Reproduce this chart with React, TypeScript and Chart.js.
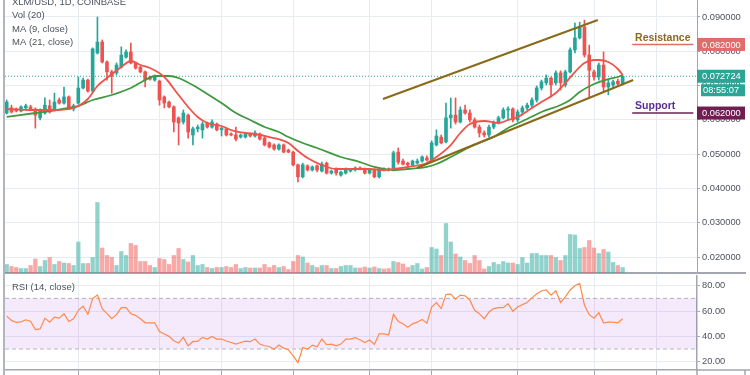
import React, { useEffect, useRef } from 'react';
import { Chart, registerables } from 'chart.js';

Chart.register(...registerables);

// ---------- DATA ----------
const opens = [
  0.0620, 0.0635, 0.0632, 0.0626, 0.0635, 0.0638, 0.0632, 0.0606, 0.0620, 0.0641,
  0.0629, 0.0658, 0.0649, 0.0667, 0.0632, 0.0649, 0.0693, 0.0716, 0.0684, 0.0795,
  0.0827, 0.0769, 0.0740, 0.0737, 0.0754, 0.0783, 0.0798, 0.0766, 0.0754, 0.0740,
  0.0725, 0.0716, 0.0713, 0.0667, 0.0652, 0.0638, 0.0606, 0.0594, 0.0614, 0.0556,
  0.0574, 0.0571, 0.0591, 0.0579, 0.0588, 0.0571, 0.0574, 0.0559, 0.0556, 0.0550,
  0.0550, 0.0559, 0.0553, 0.0559, 0.0547, 0.0533, 0.0527, 0.0515, 0.0527, 0.0512,
  0.0506, 0.0469, 0.0434, 0.0466, 0.0454, 0.0466, 0.0451, 0.0474, 0.0445, 0.0457,
  0.0439, 0.0445, 0.0451, 0.0454, 0.0460, 0.0457, 0.0445, 0.0454, 0.0434, 0.0457,
  0.0457, 0.0454, 0.0506, 0.0480, 0.0474, 0.0469, 0.0474, 0.0480, 0.0489, 0.0480,
  0.0527, 0.0550, 0.0536, 0.0606, 0.0614, 0.0594, 0.0629, 0.0620, 0.0600, 0.0579,
  0.0562, 0.0556, 0.0579, 0.0591, 0.0606, 0.0629, 0.0632, 0.0600, 0.0623, 0.0635,
  0.0643, 0.0658, 0.0693, 0.0708, 0.0722, 0.0708, 0.0737, 0.0702, 0.0740, 0.0804,
  0.0839, 0.0871, 0.0789, 0.0740, 0.0725, 0.0760, 0.0696, 0.0702, 0.0713, 0.0705,
];
const highs = [
  0.0658, 0.0643, 0.0635, 0.0641, 0.0646, 0.0643, 0.0635, 0.0632, 0.0664, 0.0658,
  0.0678, 0.0664, 0.0696, 0.0670, 0.0646, 0.0725, 0.0722, 0.0719, 0.0810, 0.0900,
  0.0833, 0.0772, 0.0745, 0.0766, 0.0813, 0.0804, 0.0824, 0.0769, 0.0757, 0.0743,
  0.0728, 0.0731, 0.0716, 0.0670, 0.0655, 0.0641, 0.0609, 0.0629, 0.0617, 0.0579,
  0.0585, 0.0594, 0.0594, 0.0600, 0.0591, 0.0579, 0.0576, 0.0562, 0.0579, 0.0559,
  0.0562, 0.0562, 0.0568, 0.0562, 0.0550, 0.0536, 0.0530, 0.0530, 0.0530, 0.0515,
  0.0509, 0.0471, 0.0474, 0.0469, 0.0466, 0.0469, 0.0477, 0.0477, 0.0454, 0.0460,
  0.0451, 0.0460, 0.0457, 0.0463, 0.0463, 0.0460, 0.0457, 0.0457, 0.0460, 0.0460,
  0.0460, 0.0509, 0.0518, 0.0486, 0.0477, 0.0483, 0.0486, 0.0495, 0.0495, 0.0539,
  0.0571, 0.0556, 0.0649, 0.0664, 0.0664, 0.0638, 0.0643, 0.0629, 0.0606, 0.0585,
  0.0568, 0.0585, 0.0597, 0.0611, 0.0635, 0.0638, 0.0635, 0.0629, 0.0641, 0.0649,
  0.0664, 0.0699, 0.0716, 0.0731, 0.0725, 0.0743, 0.0743, 0.0745, 0.0810, 0.0882,
  0.0885, 0.0891, 0.0818, 0.0745, 0.0766, 0.0798, 0.0716, 0.0716, 0.0719, 0.0728,
];
const lows = [
  0.0617, 0.0620, 0.0623, 0.0623, 0.0632, 0.0629, 0.0576, 0.0600, 0.0617, 0.0620,
  0.0626, 0.0646, 0.0646, 0.0632, 0.0626, 0.0646, 0.0690, 0.0681, 0.0681, 0.0792,
  0.0766, 0.0716, 0.0678, 0.0731, 0.0751, 0.0780, 0.0763, 0.0748, 0.0737, 0.0696,
  0.0716, 0.0713, 0.0643, 0.0635, 0.0635, 0.0565, 0.0527, 0.0588, 0.0547, 0.0527,
  0.0565, 0.0547, 0.0576, 0.0576, 0.0568, 0.0553, 0.0553, 0.0553, 0.0539, 0.0547,
  0.0547, 0.0550, 0.0550, 0.0541, 0.0524, 0.0518, 0.0512, 0.0512, 0.0504, 0.0504,
  0.0466, 0.0419, 0.0431, 0.0451, 0.0451, 0.0448, 0.0448, 0.0442, 0.0442, 0.0439,
  0.0436, 0.0442, 0.0448, 0.0451, 0.0454, 0.0442, 0.0442, 0.0431, 0.0431, 0.0451,
  0.0451, 0.0451, 0.0471, 0.0469, 0.0466, 0.0466, 0.0471, 0.0477, 0.0480, 0.0477,
  0.0524, 0.0530, 0.0533, 0.0576, 0.0588, 0.0591, 0.0617, 0.0594, 0.0576, 0.0550,
  0.0550, 0.0550, 0.0574, 0.0588, 0.0603, 0.0600, 0.0594, 0.0594, 0.0617, 0.0629,
  0.0635, 0.0652, 0.0687, 0.0702, 0.0667, 0.0702, 0.0687, 0.0696, 0.0737, 0.0795,
  0.0836, 0.0783, 0.0664, 0.0716, 0.0716, 0.0681, 0.0673, 0.0693, 0.0699, 0.0702,
];
const closes = [
  0.0652, 0.0623, 0.0626, 0.0638, 0.0641, 0.0632, 0.0614, 0.0629, 0.0643, 0.0623,
  0.0652, 0.0649, 0.0667, 0.0635, 0.0641, 0.0693, 0.0716, 0.0684, 0.0807, 0.0827,
  0.0769, 0.0740, 0.0728, 0.0760, 0.0789, 0.0798, 0.0766, 0.0751, 0.0740, 0.0716,
  0.0719, 0.0725, 0.0658, 0.0649, 0.0638, 0.0594, 0.0591, 0.0620, 0.0565, 0.0574,
  0.0579, 0.0588, 0.0579, 0.0594, 0.0571, 0.0576, 0.0556, 0.0556, 0.0544, 0.0556,
  0.0559, 0.0553, 0.0562, 0.0544, 0.0527, 0.0521, 0.0515, 0.0527, 0.0506, 0.0506,
  0.0469, 0.0434, 0.0469, 0.0454, 0.0463, 0.0454, 0.0471, 0.0445, 0.0451, 0.0445,
  0.0448, 0.0457, 0.0454, 0.0460, 0.0457, 0.0445, 0.0454, 0.0434, 0.0457, 0.0454,
  0.0454, 0.0504, 0.0477, 0.0471, 0.0469, 0.0480, 0.0480, 0.0492, 0.0483, 0.0533,
  0.0553, 0.0533, 0.0606, 0.0614, 0.0594, 0.0629, 0.0620, 0.0600, 0.0579, 0.0562,
  0.0556, 0.0579, 0.0591, 0.0606, 0.0629, 0.0632, 0.0600, 0.0623, 0.0635, 0.0643,
  0.0658, 0.0693, 0.0711, 0.0722, 0.0702, 0.0737, 0.0708, 0.0740, 0.0804, 0.0839,
  0.0871, 0.0789, 0.0745, 0.0725, 0.0760, 0.0696, 0.0708, 0.0711, 0.0705, 0.072724,
];
// volume in millions of XLM
const volumes = [
  17, 13, 11, 9, 9, 15, 28, 13, 25, 31, 17, 23, 20, 19, 15, 62, 19, 19, 31, 141,
  50, 35, 31, 15, 43, 35, 59, 55, 23, 23, 15, 11, 29, 27, 17, 35, 49, 27, 22, 35,
  15, 17, 11, 9, 11, 11, 13, 11, 17, 9, 11, 10, 10, 10, 17, 11, 15, 11, 13, 7,
  23, 35, 32, 20, 15, 11, 15, 15, 9, 9, 13, 15, 15, 10, 10, 12, 10, 12, 9, 8,
  9, 23, 21, 18, 11, 15, 19, 8, 11, 51, 48, 35, 99, 62, 38, 32, 25, 19, 35, 25,
  8, 13, 21, 17, 23, 20, 20, 17, 31, 20, 39, 39, 35, 35, 35, 31, 25, 35, 77, 76,
  49, 51, 65, 50, 39, 47, 42, 21, 15, 11,
];
const rsiValues = [
  56.0, 52.6, 51.0, 51.5, 53.1, 52.0, 45.4, 45.9, 54.4, 51.2,
  55.2, 54.4, 57.9, 51.8, 53.9, 60.6, 63.8, 57.4, 69.9, 72.6,
  61.9, 57.9, 53.9, 57.1, 62.7, 62.7, 57.9, 56.6, 53.9, 50.7,
  50.7, 50.7, 43.8, 41.9, 40.0, 36.6, 34.7, 39.2, 32.6, 36.0,
  36.0, 39.2, 37.9, 40.0, 37.9, 37.9, 36.3, 35.2, 33.9, 35.2,
  36.3, 35.8, 37.9, 33.9, 32.6, 32.0, 29.9, 33.1, 30.7, 29.4,
  24.6, 19.2, 31.2, 29.9, 33.1, 31.8, 37.9, 33.4, 33.9, 32.6,
  33.9, 37.9, 37.9, 39.0, 37.4, 35.2, 37.1, 33.6, 41.9, 41.9,
  41.1, 57.4, 51.8, 49.9, 47.2, 49.9, 51.2, 53.4, 50.4, 63.2,
  66.7, 61.9, 73.1, 73.4, 69.4, 72.6, 72.0, 68.6, 60.6, 57.9,
  53.9, 59.2, 61.9, 62.7, 62.7, 65.9, 59.8, 63.2, 65.1, 66.7,
  70.4, 73.6, 75.8, 76.6, 72.6, 76.0, 66.7, 71.2, 76.6, 80.0,
  81.9, 64.6, 57.1, 54.4, 58.7, 50.7, 51.2, 51.2, 50.7, 53.9,
];
// moving averages (candle index, value)
const ma9Days = [0, 5, 10, 14, 17, 19, 21, 24, 26, 28, 30, 33, 36, 38, 40, 42, 45, 47, 50, 52, 55, 59, 61, 63, 66, 69, 72, 76, 79, 81, 84, 88, 90, 93, 95, 97, 100, 103, 105, 107, 110, 112, 115, 117, 119, 121, 123, 124, 126, 128, 129];
const ma9Values = [0.06318, 0.06289, 0.06289, 0.06347, 0.06609, 0.06988, 0.07222, 0.07542, 0.07717, 0.07601, 0.07513, 0.07251, 0.06726, 0.06376, 0.06085, 0.05910, 0.05822, 0.05705, 0.05618, 0.05589, 0.05501, 0.05327, 0.05093, 0.04889, 0.04685, 0.04568, 0.04568, 0.04568, 0.04539, 0.04568, 0.04627, 0.04743, 0.04918, 0.05268, 0.05618, 0.05880, 0.05968, 0.05910, 0.05997, 0.06085, 0.06347, 0.06522, 0.06784, 0.07076, 0.07396, 0.07659, 0.07746, 0.07746, 0.07688, 0.07484, 0.07309];
const ma21Days = [0, 6, 13, 15, 18, 22, 26, 29, 31, 34, 36, 40, 43, 45, 48, 51, 54, 57, 59, 62, 65, 70, 74, 77, 81, 84, 88, 90, 93, 97, 100, 102, 105, 109, 112, 116, 118, 120, 123, 126, 128, 129];
const ma21Values = [0.06085, 0.06201, 0.06347, 0.06405, 0.06580, 0.06726, 0.06930, 0.07163, 0.07280, 0.07280, 0.07222, 0.06930, 0.06668, 0.06493, 0.06201, 0.05997, 0.05793, 0.05647, 0.05501, 0.05327, 0.05181, 0.04918, 0.04772, 0.04627, 0.04539, 0.04568, 0.04627, 0.04714, 0.04918, 0.05210, 0.05385, 0.05501, 0.05764, 0.06026, 0.06230, 0.06434, 0.06580, 0.06813, 0.07047, 0.07192, 0.07251, 0.07309];
// hand-drawn channel (candle index, price)
const channelUpper = [[78.8, 0.06609], [123.8, 0.08913]];
const channelLower = [[85.9, 0.04598], [131.2, 0.07163]];
const resistanceLevel = 0.082;
const supportLevel = 0.062;
const levelSpan = [131.0, 143.8];
const labelAt = 131.6;
const lastPrice = 0.072724;
const countdown = '08:55:07';
const gridDays = [15, 32, 45, 60, 76, 89, 107, 123, 136];
const priceTicks = [0.02, 0.03, 0.04, 0.05, 0.06, 0.07, 0.08, 0.09];
const rsiTicks = [20, 40, 60, 80];
const rsiBand = [30, 70];

// ---------- AXIS RANGES / STYLE ----------
const X_MIN = -0.356;
const X_MAX = 144.57;
const P_MIN = 0.015364;
const P_MAX = 0.094956;
const VOL_MAX = 546;
const RSI_MIN = 13.45;
const RSI_MAX = 88.45;

const FONT = '"Liberation Sans", Arial, sans-serif';
const UP = '#26a69a';
const DOWN = '#ef5350';
const VOL_UP = 'rgba(38,166,154,0.5)';
const VOL_DOWN = 'rgba(239,83,80,0.5)';
const MA9_C = '#f0534b';
const MA21_C = '#3f9a3f';
const TREND = '#8a6a18';
const GRID = '#e7ecf1';
const AXIS = '#a3a6ae';
const TEXT = '#4c525e';
const RSI_C = '#ff8a4c';
const BAND_LINE = '#b4b6bd';
const BAND_FILL = 'rgba(155,39,230,0.1)';
const RES_LINE = '#e06c6c';
const RES_TEXT = '#8a6a18';
const SUP_LINE = '#6d1f52';
const SUP_TEXT = '#5b2c91';
const LAST_BOX = '#2aa596';

Chart.defaults.font.family = FONT;

const isUp = closes.map((c, i) => c >= opens[i]);
const candleColors = isUp.map((u) => (u ? UP : DOWN));
const volColors = isUp.map((u) => (u ? VOL_UP : VOL_DOWN));

function leftBorder(chart: any) {
  const { ctx, chartArea } = chart;
  ctx.save();
  ctx.strokeStyle = '#b2b5be';
  ctx.lineWidth = 2;
  ctx.beginPath();
  ctx.moveTo(chartArea.left - 1, 0);
  ctx.lineTo(chartArea.left - 1, chart.height);
  ctx.stroke();
  ctx.restore();
}

const priceDecor = {
  id: 'priceDecor',
  afterDraw(chart: any) {
    const { ctx, chartArea, scales } = chart;
    const ys = scales.y;
    const xs = scales.x;
    leftBorder(chart);
    ctx.save();
    ctx.strokeStyle = AXIS;
    ctx.lineWidth = 2;
    ctx.beginPath();
    ctx.moveTo(chartArea.right, chartArea.bottom);
    ctx.lineTo(chart.width - 4, chartArea.bottom);
    ctx.stroke();

    const box = (value: number, bg: string, text: string) => {
      const y = ys.getPixelForValue(value);
      ctx.fillStyle = bg;
      ctx.fillRect(chartArea.right, y - 6.5, chart.width - 5 - chartArea.right, 13);
      ctx.fillStyle = '#ffffff';
      ctx.font = `9.3px ${FONT}`;
      ctx.textBaseline = 'middle';
      ctx.textAlign = 'left';
      ctx.fillText(text, chartArea.right + 5, y + 0.5);
      return y;
    };
    box(resistanceLevel, RES_LINE, resistanceLevel.toFixed(6));
    box(supportLevel, SUP_LINE, supportLevel.toFixed(6));
    const yl = box(lastPrice, LAST_BOX, lastPrice.toFixed(6));
    ctx.fillStyle = LAST_BOX;
    ctx.fillRect(chartArea.right + 4, yl + 8, chart.width - 9 - chartArea.right, 12);
    ctx.fillStyle = '#ffffff';
    ctx.fillText(countdown, chartArea.right + 6, yl + 14.5);

    ctx.font = `bold 10.5px ${FONT}`;
    ctx.textBaseline = 'alphabetic';
    ctx.fillStyle = RES_TEXT;
    ctx.fillText('Resistance', xs.getPixelForValue(labelAt), ys.getPixelForValue(resistanceLevel) - 3);
    ctx.fillStyle = SUP_TEXT;
    ctx.fillText('Support', xs.getPixelForValue(labelAt), ys.getPixelForValue(supportLevel) - 4.5);

    ctx.font = `9.5px ${FONT}`;
    ctx.fillStyle = TEXT;
    const lx = 12;
    ctx.fillText('XLM/USD, 1D, COINBASE', lx, 5);
    ctx.fillText('Vol (20)', lx, 18.4);
    ctx.fillText('MA (9, close)', lx, 31.7);
    ctx.fillText('MA (21, close)', lx, 45);
    ctx.restore();
  },
};

const rsiDecor = {
  id: 'rsiDecor',
  afterDraw(chart: any) {
    const { ctx, chartArea } = chart;
    leftBorder(chart);
    ctx.save();
    ctx.strokeStyle = AXIS;
    ctx.lineWidth = 1.5;
    ctx.beginPath();
    ctx.moveTo(chartArea.right, chartArea.bottom);
    ctx.lineTo(chart.width, chartArea.bottom);
    ctx.moveTo(chartArea.right, chartArea.bottom);
    ctx.lineTo(chartArea.right, chart.height);
    ctx.moveTo(chart.width - 5, chartArea.bottom);
    ctx.lineTo(chart.width - 5, chart.height);
    ctx.stroke();
    ctx.font = `9.5px ${FONT}`;
    ctx.fillStyle = TEXT;
    ctx.textBaseline = 'alphabetic';
    ctx.fillText('RSI (14, close)', 12, 15);
    ctx.restore();
  },
};

const seg = (pts: number[][]) => pts.map(([x, y]) => ({ x, y }));
const hline = (y: number, a = X_MIN, b = X_MAX) => [{ x: a, y }, { x: b, y }];

function xScale(height: number, tickLength: number) {
  return {
    type: 'linear',
    min: X_MIN,
    max: X_MAX,
    offset: false,
    position: 'bottom',
    afterBuildTicks: (s: any) => {
      s.ticks = gridDays.map((v) => ({ value: v }));
    },
    afterFit: (s: any) => {
      s.height = height;
    },
    ticks: { display: false },
    grid: { color: GRID, offset: false, drawTicks: tickLength > 0, tickLength, tickColor: AXIS },
    border: { display: true, color: AXIS, width: height > 2 ? 1.5 : 2 },
  };
}

function priceConfig(): any {
  return {
    type: 'bar',
    data: {
      datasets: [
        { type: 'line', label: 'Channel top', data: seg(channelUpper), borderColor: TREND, borderWidth: 2, pointRadius: 0, fill: false, order: 1 },
        { type: 'line', label: 'Channel bottom', data: seg(channelLower), borderColor: TREND, borderWidth: 2, pointRadius: 0, fill: false, order: 1 },
        { type: 'line', label: 'Resistance', data: hline(resistanceLevel, levelSpan[0], levelSpan[1]), borderColor: RES_LINE, borderWidth: 1.5, pointRadius: 0, fill: false, order: 1 },
        { type: 'line', label: 'Support', data: hline(supportLevel, levelSpan[0], levelSpan[1]), borderColor: SUP_LINE, borderWidth: 1.5, pointRadius: 0, fill: false, order: 1 },
        { type: 'line', label: 'MA (9, close)', data: ma9Days.map((x, i) => ({ x, y: ma9Values[i] })), borderColor: MA9_C, borderWidth: 1.8, pointRadius: 0, fill: false, cubicInterpolationMode: 'monotone', order: 2 },
        { type: 'line', label: 'MA (21, close)', data: ma21Days.map((x, i) => ({ x, y: ma21Values[i] })), borderColor: MA21_C, borderWidth: 1.8, pointRadius: 0, fill: false, cubicInterpolationMode: 'monotone', order: 2 },
        { type: 'line', label: 'Last price', data: hline(lastPrice), borderColor: UP, borderWidth: 1, borderDash: [1, 2], pointRadius: 0, fill: false, order: 3 },
        { type: 'bar', label: 'Body', data: closes.map((c, i) => ({ x: i, y: [opens[i], c] })), backgroundColor: candleColors, barThickness: 3, maxBarThickness: 3, minBarLength: 1, grouped: false, order: 4 },
        { type: 'bar', label: 'Wick', data: highs.map((h, i) => ({ x: i, y: [lows[i], h] })), backgroundColor: candleColors, barThickness: 1, maxBarThickness: 1, grouped: false, order: 5 },
        { type: 'bar', label: 'Volume', data: volumes.map((v, i) => ({ x: i, y: v })), backgroundColor: volColors, barThickness: 3.6, maxBarThickness: 3.6, grouped: false, yAxisID: 'yVol', order: 10 },
      ],
    },
    options: {
      responsive: false,
      animation: false,
      devicePixelRatio: 1,
      layout: { padding: { left: 5, top: 0, right: 0, bottom: 0 }, autoPadding: false },
      plugins: { legend: { display: false }, tooltip: { enabled: false } },
      scales: {
        x: xScale(2, 0),
        y: {
          type: 'linear',
          position: 'right',
          min: P_MIN,
          max: P_MAX,
          afterBuildTicks: (s: any) => {
            s.ticks = priceTicks.map((v) => ({ value: v }));
          },
          afterFit: (s: any) => {
            s.width = 53;
            s.paddingTop = 0;
            s.paddingBottom = 0;
          },
          ticks: { autoSkip: false, callback: (v: any) => Number(v).toFixed(6), font: { family: FONT, size: 9.3 }, color: TEXT, padding: 2 },
          grid: { color: GRID, tickLength: 3, tickColor: AXIS },
          border: { display: true, color: AXIS, width: 1 },
        },
        yVol: { type: 'linear', display: false, position: 'left', min: 0, max: VOL_MAX },
      },
    },
    plugins: [priceDecor],
  };
}

function rsiConfig(): any {
  return {
    type: 'line',
    data: {
      datasets: [
        { label: 'RSI (14, close)', data: rsiValues.map((y, x) => ({ x, y })), borderColor: RSI_C, borderWidth: 1.2, pointRadius: 0, fill: false, order: 0 },
        { label: 'Upper band', data: hline(rsiBand[1]), borderColor: BAND_LINE, borderWidth: 1, borderDash: [4, 3], pointRadius: 0, fill: false, order: 2 },
        { label: 'Lower band', data: hline(rsiBand[0]), borderColor: BAND_LINE, borderWidth: 1, borderDash: [4, 3], pointRadius: 0, fill: '-1', backgroundColor: BAND_FILL, order: 1 },
      ],
    },
    options: {
      responsive: false,
      animation: false,
      devicePixelRatio: 1,
      layout: { padding: { left: 5, top: 0, right: 0, bottom: 0 }, autoPadding: false },
      plugins: { legend: { display: false }, tooltip: { enabled: false } },
      scales: {
        x: xScale(5, 5),
        y: {
          type: 'linear',
          position: 'right',
          min: RSI_MIN,
          max: RSI_MAX,
          afterBuildTicks: (s: any) => {
            s.ticks = rsiTicks.map((v) => ({ value: v }));
          },
          afterFit: (s: any) => {
            s.width = 53;
            s.paddingTop = 0;
            s.paddingBottom = 0;
          },
          ticks: { autoSkip: false, callback: (v: any) => Number(v).toFixed(2), font: { family: FONT, size: 9.3 }, color: TEXT, padding: 2 },
          grid: { color: GRID, tickLength: 3, tickColor: AXIS },
          border: { display: true, color: AXIS, width: 1.5 },
        },
      },
    },
    plugins: [rsiDecor],
  };
}

export default function App() {
  const priceRef = useRef<HTMLCanvasElement>(null);
  const rsiRef = useRef<HTMLCanvasElement>(null);
  useEffect(() => {
    const pc = new Chart(priceRef.current as HTMLCanvasElement, priceConfig());
    const rc = new Chart(rsiRef.current as HTMLCanvasElement, rsiConfig());
    return () => {
      pc.destroy();
      rc.destroy();
    };
  }, []);
  return (
    <div style={{ position: 'absolute', left: 0, top: 0, width: 750, height: 375, background: '#ffffff', overflow: 'hidden' }}>
      <canvas ref={priceRef} width={750} height={275} style={{ position: 'absolute', left: 0, top: 0, width: 750, height: 275 }} />
      <canvas ref={rsiRef} width={750} height={100} style={{ position: 'absolute', left: 0, top: 275, width: 750, height: 100 }} />
    </div>
  );
}
